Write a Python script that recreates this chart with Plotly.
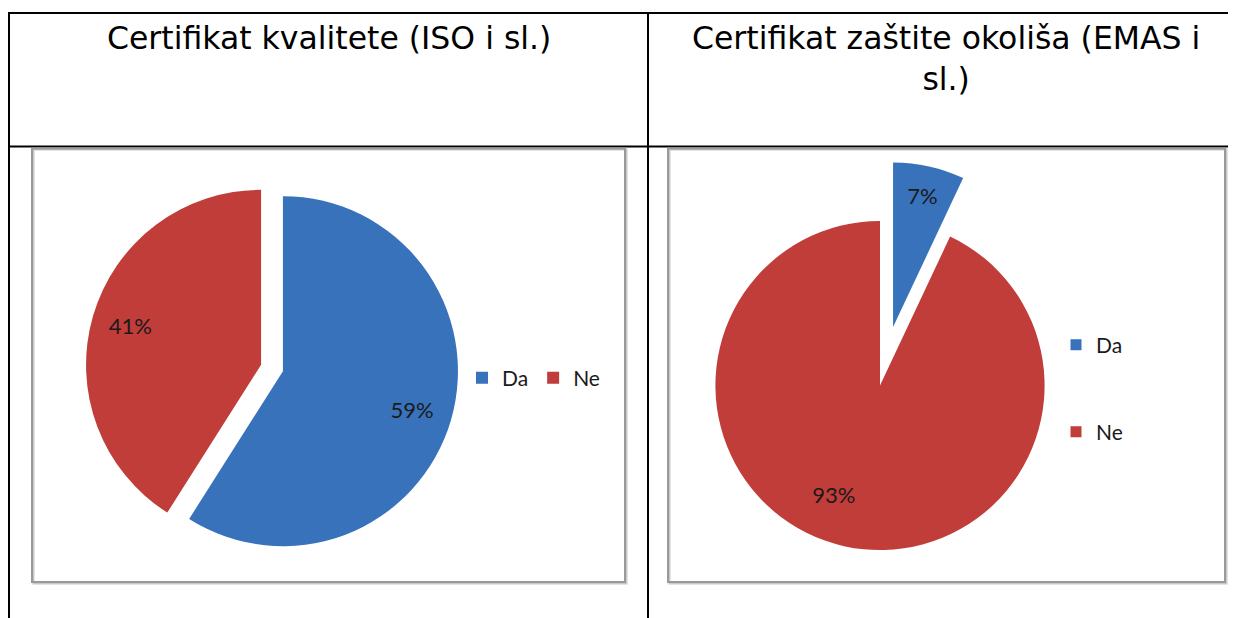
import plotly.graph_objects as go

# The page body has an 8px margin, so the figure is drawn 8px in from the window edge.
OFF = 8
W, H = 1236 - 2 * OFF, 618 - OFF

# ---- data ----
titles = ["Certifikat kvalitete (ISO i sl.)", "Certifikat zaštite okoliša (EMAS i<br>sl.)"]
labels = ["Da", "Ne"]
iso_values = [59, 41]
emas_values = [7, 93]
colors = ["#3872BB", "#C03D3A"]

NB = "\u00a0"
# label padding to nudge the percent texts toward where the original places them
iso_templates = [NB + "<br>" + NB * 16 + "%{percent}", "%{percent}" + NB * 16 + "<br>" + NB]
emas_templates = ["%{percent}", NB + "<br>" + NB + "<br>" + "%{percent}" + NB * 10]


def px_x(v):
    return (v - OFF) / W


def px_y(v):
    return 1 - (v - OFF) / H


def square_domain(cx, cy, half):
    return dict(x=[max(0, px_x(cx - half)), min(1, px_x(cx + half))],
                y=[max(0, px_y(cy + half)), min(1, px_y(cy - half))])


label_font = dict(family="Lato", size=22, color="#1a1a1a")

fig = go.Figure()
fig.add_trace(go.Pie(
    labels=labels, values=iso_values, sort=False, direction="clockwise", rotation=0,
    pull=[0.065, 0.065], marker=dict(colors=colors, line=dict(width=0)),
    texttemplate=iso_templates, textposition="inside", insidetextorientation="horizontal",
    insidetextfont=label_font, domain=square_domain(272, 368, 186.4),
    legend="legend", showlegend=True, hoverinfo="label+percent",
))
fig.add_trace(go.Pie(
    labels=labels, values=emas_values, sort=False, direction="clockwise", rotation=0,
    pull=[0.364, 0], marker=dict(colors=colors, line=dict(width=0)),
    texttemplate=emas_templates, textposition="inside", insidetextorientation="horizontal",
    insidetextfont=label_font, domain=square_domain(880, 385.5, 224.5),
    showlegend=False, hoverinfo="label+percent",
))
for lab, col, leg in zip(labels, colors, ["legend2", "legend3"]):
    fig.add_trace(go.Scatter(
        x=[None], y=[None], mode="markers", name=lab, legend=leg, showlegend=True,
        marker=dict(symbol="square", size=11, color=col), hoverinfo="skip",
    ))

shapes = []
black = dict(color="black", width=2)
# table borders
shapes.append(dict(type="line", xref="paper", yref="paper", x0=px_x(9), x1=px_x(1240), y0=px_y(13), y1=px_y(13), line=black))
shapes.append(dict(type="line", xref="paper", yref="paper", x0=px_x(9), x1=px_x(1240), y0=px_y(146.5), y1=px_y(146.5), line=black))
shapes.append(dict(type="line", xref="paper", yref="paper", x0=px_x(9), x1=px_x(9), y0=px_y(12), y1=px_y(620), line=black))
shapes.append(dict(type="line", xref="paper", yref="paper", x0=px_x(648), x1=px_x(648), y0=px_y(12), y1=px_y(620), line=black))
# chart boxes (with light shadow)
for (x0, x1) in [(32, 625), (668, 1225)]:
    shapes.append(dict(type="rect", xref="paper", yref="paper", x0=px_x(x0 + 1.5), x1=px_x(x1 + 1.5),
                       y0=px_y(149.5), y1=px_y(583.5), line=dict(color="#c8c8c8", width=2)))
    shapes.append(dict(type="rect", xref="paper", yref="paper", x0=px_x(x0), x1=px_x(x1),
                       y0=px_y(148.5), y1=px_y(582), line=dict(color="#999999", width=2)))

title_font = dict(family="DejaVu Sans", size=31.5, color="black")
annotations = [
    dict(text=titles[0], x=px_x(329), y=px_y(18), xref="paper", yref="paper", xanchor="center",
         yanchor="top", showarrow=False, font=title_font),
    dict(text=titles[1], x=px_x(946), y=px_y(18), xref="paper", yref="paper", xanchor="center",
         yanchor="top", showarrow=False, font=title_font),
]

legend_font = dict(family="Lato", size=21, color="#1a1a1a")
fig.update_layout(
    width=W, height=H, margin=dict(l=0, r=0, t=0, b=0),
    paper_bgcolor="white", plot_bgcolor="rgba(0,0,0,0)",
    xaxis=dict(visible=False), yaxis=dict(visible=False),
    shapes=shapes, annotations=annotations,
    legend=dict(orientation="h", x=px_x(462), y=px_y(378), xanchor="left", yanchor="middle",
                font=legend_font, bgcolor="rgba(0,0,0,0)"),
    legend2=dict(x=px_x(1056), y=px_y(345), xanchor="left", yanchor="middle",
                 font=legend_font, bgcolor="rgba(0,0,0,0)"),
    legend3=dict(x=px_x(1056), y=px_y(432), xanchor="left", yanchor="middle",
                 font=legend_font, bgcolor="rgba(0,0,0,0)"),
)

fig.write_html("out.html")
